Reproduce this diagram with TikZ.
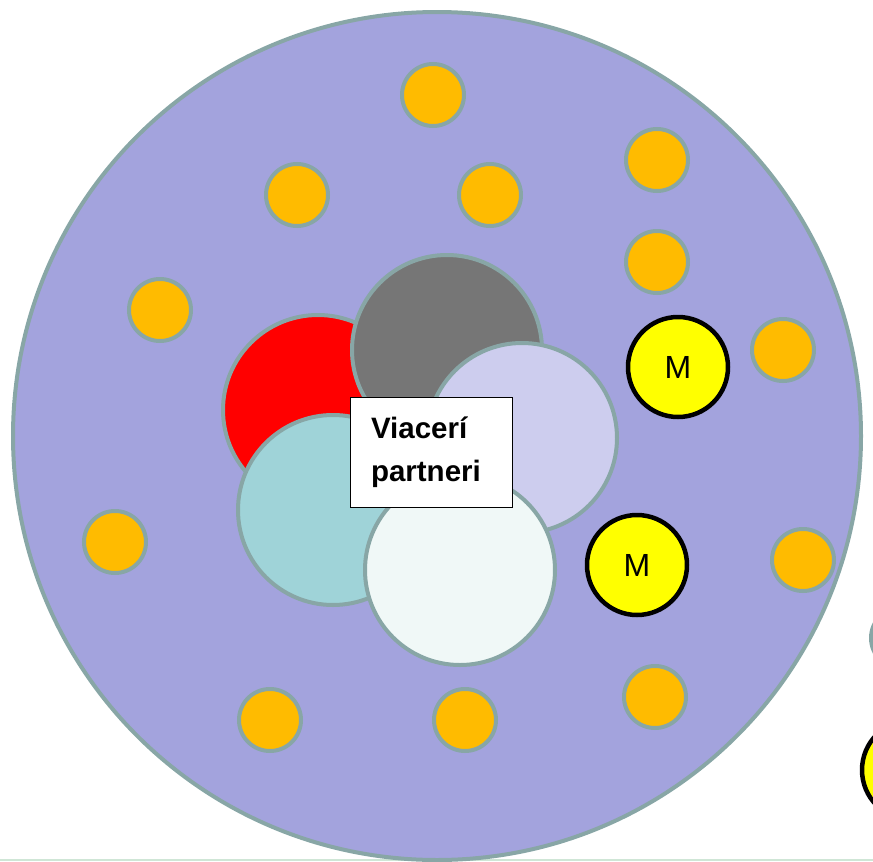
\documentclass[tikz,border=0pt]{standalone}
\usepackage{fontspec}
\setmainfont{Liberation Sans}
\definecolor{ringLine}{HTML}{88A6A6}
\definecolor{cellFill}{HTML}{A3A3DD}
\definecolor{dotFill}{HTML}{FFBB00}
\definecolor{mFill}{HTML}{FFFF00}
\definecolor{redFill}{HTML}{FF0000}
\definecolor{greyFill}{HTML}{767676}
\definecolor{lilacFill}{HTML}{CDCDEE}
\definecolor{tealFill}{HTML}{9FD3D8}
\definecolor{paleFill}{HTML}{F0F8F7}
\definecolor{baseLine}{HTML}{CFE6D6}
\begin{document}
\begin{tikzpicture}[x=1pt,y=-1pt,
    dot/.style={circle,draw=ringLine,line width=4pt,fill=dotFill,minimum size=62pt,inner sep=0pt},
    mdot/.style={circle,draw=black,line width=4.5pt,fill=mFill,minimum size=100pt,inner sep=0pt,font=\fontsize{32}{36}\selectfont},
    partner/.style={circle,draw=ringLine,line width=4pt,minimum size=190pt,inner sep=0pt}]
  \useasboundingbox (0,0) rectangle (873,862);
  \draw[baseLine,line width=2pt] (0,860) -- (873,860);
  % cell
  \node[circle,draw=ringLine,line width=4pt,fill=cellFill,minimum size=848pt,inner sep=0pt] (cell) at (437,436) {};
  % small dots
  \foreach \px/\py [count=\i] in {433/95,657/160,297/195,490/195,657/262,160/310,783/350,115/542,803/560,270/720,465/720,655/697,902/638}
    \node[dot] (dot\i) at (\px,\py) {};
  % partners
  \node[partner,fill=redFill] (red) at (318,410) {};
  \node[partner,fill=greyFill] (grey) at (447,350) {};
  \node[partner,fill=lilacFill] (lilac) at (522,438) {};
  \node[partner,fill=tealFill] (teal) at (333,510) {};
  \node[partner,fill=paleFill] (pale) at (460,570) {};
  % label
  \node[draw=black,fill=white,line width=0.8pt,minimum width=162pt,minimum height=110pt,
        text width=120pt,inner xsep=21pt,align=left,
        font=\bfseries\fontsize{29.5}{43}\selectfont] (label) at (431,452) {Viacerí\\partneri};
  % M
  \node[mdot] (m1) at (678,367) {M};
  \node[mdot] (m2) at (637,565) {M};
  \node[mdot] (m3) at (912,770) {};
\end{tikzpicture}
\end{document}
